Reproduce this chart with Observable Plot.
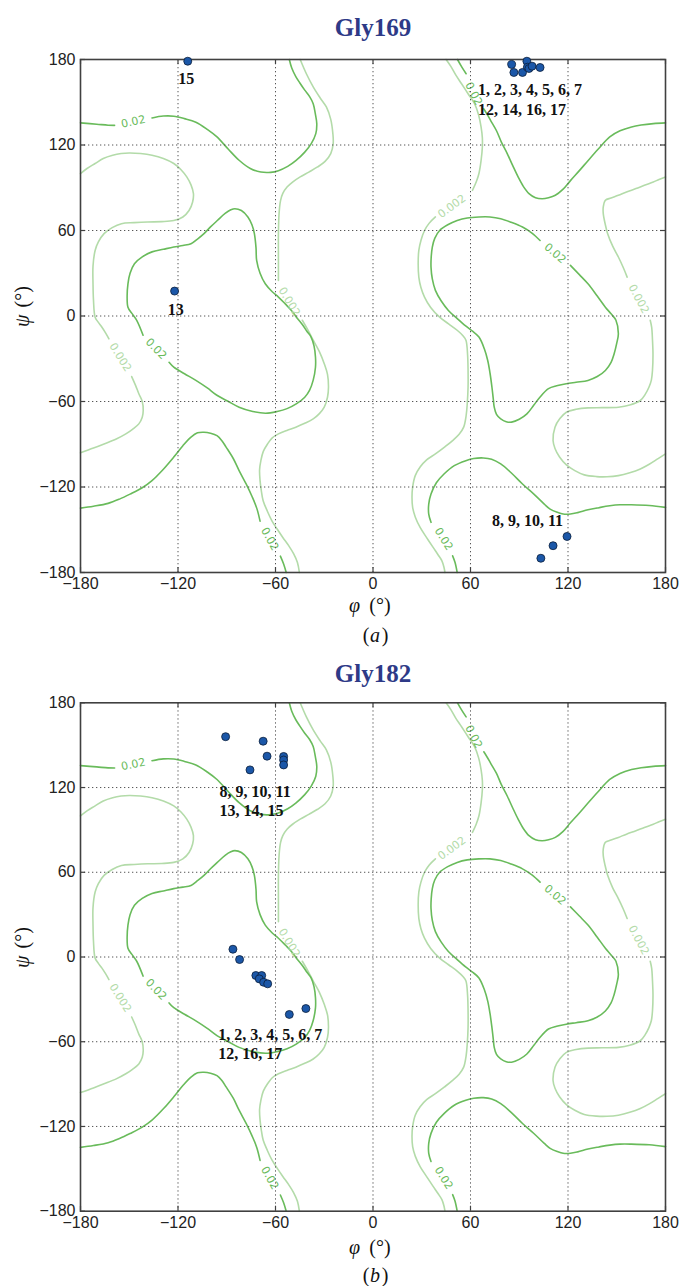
<!DOCTYPE html>
<html><head><meta charset="utf-8">
<script src="https://cdn.jsdelivr.net/npm/d3@7"></script>
<script src="https://cdn.jsdelivr.net/npm/@observablehq/plot@0.6"></script>
<style>body{margin:0;background:#fff} svg{display:block}</style>
</head><body><div id="chart"></div>
<script>
// ---- axis ticks ----
const ticks = [-180, -120, -60, 0, 60, 120, 180];
const gridTicks = [-120, -60, 0, 60, 120];
const tickLabels = ["\u2212180", "\u2212120", "\u221260", "0", "60", "120", "180"];

// ---- contour level 0.02 (polylines [phi, psi], broken where the inline labels sit) ----
const c02_upperLeft_a = [[-180,135.5],[-170,134.6],[-163,133.9],[-159,133.8]];
const c02_upperLeft_b = [[-136,139],[-129,140.3],[-122.6,140.2],[-116,138.5],[-109,136],[-102,131],[-96,125.7],[-89,117],[-82.4,109.3],[-75.5,103.5],[-69,101],[-63,100.8],[-58.2,102],[-52.5,105],[-47.5,109],[-42,115],[-38,121],[-35.2,128],[-34.6,135],[-35.5,142],[-36.8,149],[-39,154],[-42,158.5],[-45,163.5],[-47.5,168],[-50,174],[-51.5,180]];
const c02_lowerLeft_a = [[-180,-134.8],[-172,-133.5],[-163,-131.5],[-156,-128.5],[-149.5,-125],[-142,-120.5],[-136,-115.5],[-129,-107.5],[-122.6,-99],[-117,-91],[-112,-85],[-108,-82],[-104,-81.6],[-100,-82.3],[-96,-84],[-93,-87.5],[-90.4,-92],[-86,-100],[-82.4,-108.5],[-78,-118],[-74.3,-127],[-71.5,-135],[-69.5,-144]];
const c02_lowerLeft_b = [[-57,-168.5],[-55,-174],[-53.4,-180]];
const c02_alpha = [[-141.5,-13.5],[-145.4,-3],[-148.5,2],[-150.8,6.2],[-151.3,14],[-150.8,22.6],[-149.5,30],[-146.8,36.7],[-142,41.5],[-136,45],[-129,46.8],[-122.6,48.4],[-117,49.5],[-112,50.7],[-108,54],[-104,57.8],[-100,62.5],[-95.8,67],[-91,72],[-87.5,74.5],[-85,75.3],[-81,74],[-77,69.5],[-74.5,64],[-73,57.8],[-72,48],[-71.6,39],[-69.5,30],[-66.3,22.6],[-62,17],[-58.2,13.3],[-54,8.5],[-50.2,3.9],[-47,-1],[-43.5,-6],[-40.5,-11],[-38.1,-14.8],[-36.3,-21],[-35.4,-28.8],[-35.4,-36],[-36.8,-45],[-39,-52],[-42,-57],[-47,-61.5],[-52.9,-65],[-59,-67],[-66,-68.2],[-74,-67],[-82.4,-64],[-89,-60],[-95.8,-55.8],[-102,-50.5],[-109,-45.2],[-116,-40.5],[-122.6,-35.9],[-125.5,-32.5]];
const c02_upperRight_a = [[52,180],[54.5,175],[57.3,170]];
const c02_upperRight_b = [[68.2,145.3],[70,142],[72.5,137],[76,130],[79,122],[82.6,114],[86,105.5],[89.3,97.6],[92.5,91],[96,85.9],[100,83],[104.1,82.3],[108,83],[112.2,84.7],[117,89],[121.5,95],[127,102],[132.3,109],[138.5,117],[145.7,125.7],[152,130],[159.1,132.7],[165,134],[172.5,135],[180,135.5]];
const c02_lowerRight_a = [[180,-134.3],[170,-133],[159,-132.5],[152,-132.5],[145.7,-133.2],[139,-134.5],[132.3,-136],[126,-138],[121.5,-139],[117,-139],[113.5,-137.8],[109,-135.5],[105.4,-132],[99,-125],[92,-117.9],[85,-110],[78.6,-103.8],[73,-100.5],[67.9,-99.6],[62,-100],[57.1,-101.5],[50,-105],[43.7,-110.9],[39,-117],[35.7,-124.9],[34.3,-132],[34.3,-139],[35.7,-144.8]];
const c02_lowerRight_b = [[49,-168.3],[50.5,-173],[51.8,-180]];
const c02_rightLoop = [[121.5,35.5],[127,29],[132.3,22.6],[138,14],[143,6.2],[146.5,1.5],[149.5,-3],[151,-12.4],[150,-19],[148.4,-26.5],[146.5,-32.5],[143,-38.2],[138,-42.5],[132.3,-45.2],[125,-46.5],[118.9,-47.6],[113,-49],[108,-51],[102.7,-57],[99,-62.5],[94.7,-68.7],[90,-72.5],[85.3,-74.5],[82,-74.2],[78.6,-72.2],[76,-69],[74.6,-64],[74,-58],[73.2,-50],[72,-40],[70.6,-31.2],[68.5,-23],[65.2,-14.8],[61,-10.5],[57,-7],[52,-2],[46.4,3.9],[42,10.5],[38.4,18],[36.5,26],[35.7,34.3],[35.8,41],[36.5,48.4],[38,54.5],[41,60],[46,64],[51.8,67],[58,68.8],[65.2,69.5],[72,69.5],[78.6,68.3],[85,65.8],[92,62.4],[98,58],[102.8,53]];

// ---- contour level 0.002 ----
const c002_left_a = [[-180,99.9],[-176,103.5],[-171,107],[-166,110.5],[-160.2,112.8],[-155,114],[-150,114.4],[-143,114],[-136,112.8],[-129,110.5],[-122.6,107],[-118,102.5],[-114.6,97.6],[-112,92],[-110.5,85.9],[-111,80],[-113.2,74],[-117,69.5],[-122.6,67],[-130,66.2],[-138.7,66],[-147,65.5],[-154.8,64.8],[-160.5,62],[-165.5,57.8],[-169,52],[-171,46],[-172.3,35],[-172.3,22.6],[-172,11],[-171,-0.8],[-169,-4.5],[-166.9,-7.7],[-164.5,-12],[-162.5,-16]];
const c002_left_b = [[-148.5,-42.5],[-146,-49],[-144.1,-54.6],[-142,-60],[-141.4,-66.3],[-142,-71],[-144.1,-75.7],[-148,-79.5],[-152.1,-82.7],[-158,-86.3],[-165.5,-89.8],[-172,-92.7],[-180,-96]];
const c002_midLeft_a = [[-44.8,180],[-41,170],[-36.8,160.8],[-32.5,153],[-28.7,146.7],[-26,138],[-24.7,128],[-24.5,121],[-26,114],[-29.5,108.5],[-34.1,104.6],[-39.5,101],[-44.8,97.6],[-49.5,94],[-52.9,90.5],[-55.5,86],[-56.9,81],[-57.8,72],[-58.2,57.8],[-58.2,40],[-58.2,25]];
const c002_midLeft_b = [[-43.5,-3],[-40,-10],[-36.8,-17],[-33,-25],[-30,-33.5],[-28,-41],[-27.4,-50],[-28,-57],[-30,-64],[-33,-68.5],[-36.8,-72.2],[-42,-75.3],[-47.5,-78],[-53,-80.3],[-58.2,-82.7],[-62,-85.5],[-64.9,-89.8],[-67.5,-95],[-69,-101.5],[-69.8,-108],[-69.5,-115.5],[-68.8,-122],[-67.6,-129.6],[-65,-137],[-62.2,-143.7],[-59,-149.5],[-55.5,-155.4],[-52,-161],[-48.8,-167],[-46.5,-173],[-45.3,-180]];
const c002_midRight_a = [[45,180],[48,175],[51,169],[54.5,163],[58.5,156],[62.5,149],[65,141],[66.5,132.7],[67.3,125],[67.3,118.6],[66.5,109],[65.2,100],[63.5,94],[61.2,88.2]];
const c002_midRight_b = [[38.4,69.5],[34.5,65],[31.7,60],[29.5,53],[28.2,46],[27.8,37],[28.2,27.3],[29.5,20],[31.7,13.3],[35.5,6],[41,-0.8],[46.5,-5.5],[51.8,-10],[55.5,-14],[57.2,-17],[58.2,-27],[58.5,-38],[58.5,-50],[58,-61.6],[57.3,-70],[55.8,-78],[53,-83],[49,-87.4],[44,-92],[38.4,-96.8],[33,-101],[29,-106],[26,-112],[24.4,-120],[24,-127],[24.4,-134.3],[26,-141],[29,-148.4],[33,-155.5],[37,-162.4],[40,-167.5],[42.4,-171.8],[43.6,-176],[44.3,-180]];
const c002_right_a = [[180,97.6],[176,95.8],[172.5,94],[167,91.7],[161.8,89.4],[156,87],[151,84.7],[146.5,82.8],[143,81.2],[141.7,76.5],[141.7,71.8],[142.8,65],[144.4,57.8],[147.5,49],[151,41.4],[154,34],[156.4,27.3]];
const c002_right_b = [[170.6,-3],[171.5,-8],[172,-17],[172.3,-27],[172,-38],[171.3,-45],[169.8,-50],[167.5,-55],[164.5,-59.3],[158,-62.5],[151,-64],[141,-64.3],[132.3,-64.5],[125,-65.5],[119,-67.5],[115,-72],[112,-78],[110.8,-87.4],[112,-93],[114.8,-99],[119,-104.5],[124.2,-108.5],[130,-111.5],[137.6,-112.7],[144,-112.8],[151,-112],[158,-110],[164.5,-107.3],[170,-104],[175.2,-100.3],[180,-96.8]];

// ---- inline contour labels ----
const label02Phi = [-147.5, -63.5, -133.5, 62, 43.5, 112];
const label02Psi = [136.4, -156.5, -23, 156, -156.5, 44];
const label02Angle = [-12, 61, 46, 63, 58, 41];
const label002Phi = [-155.5, -51.5, 48.5, 163.5];
const label002Psi = [-29, 10, 77, 12];
const label002Angle = [58, 59, -36, 62];

// ---- Gly169 (a) ----
const gly169Phi = [85.3, 86.7, 92.0, 94.7, 95.0, 96.0, 97.9, 102.8, -114.0, -122.1, 119.4, 110.8, 103.3];
const gly169Psi = [176.5, 170.9, 170.9, 178.8, 174.6, 173.7, 175.3, 174.4, 178.8, 17.5, -154.7, -161.2, -170.0];
const gly169Notes = ["15", "13", "1, 2, 3, 4, 5, 6, 7", "12, 14, 16, 17", "8, 9, 10, 11"];
const gly169NotePhi = [-115, -121.4, 64.6, 64.6, 73.2];
const gly169NotePsi = [166.4, 4.5, 158.5, 144.9, -143.7];
const gly169NoteAlign = ["middle", "middle", "start", "start", "start"];

// ---- Gly182 (b) ----
const gly182Phi = [-90.7, -67.6, -65.2, -75.7, -55.0, -55.0, -55.0, -86.2, -82.1, -72.1, -68.5, -70.0, -67.3, -64.8, -51.5, -41.3];
const gly182Psi = [156.0, 152.8, 142.2, 132.5, 142.0, 139.5, 136.0, 5.5, -1.8, -13.1, -13.1, -15.5, -17.9, -19.0, -40.7, -36.5];
const gly182Notes = ["8, 9, 10, 11", "13, 14, 15", "1, 2, 3, 4, 5, 6, 7", "12, 16, 17"];
const gly182NotePhi = [-94.4, -94.4, -95.3, -95.3];
const gly182NotePsi = [116.6, 103.2, -54.8, -68.5];
const gly182NoteAlign = ["start", "start", "start", "start"];

const titles = ["Gly169", "Gly182"];
const tags = ["a", "b"];
const axisVarX = "\u03c6", axisVarY = "\u03c8", unitText = "(\u00b0)";

const darkContours = [c02_upperLeft_a, c02_upperLeft_b, c02_lowerLeft_a, c02_lowerLeft_b, c02_alpha, c02_upperRight_a, c02_upperRight_b, c02_lowerRight_a, c02_lowerRight_b, c02_rightLoop];
const lightContours = [c002_left_a, c002_left_b, c002_midLeft_a, c002_midLeft_b, c002_midRight_a, c002_midRight_b, c002_right_a, c002_right_b];

const DARK = "#69bb5b", LIGHT = "#b3dba9";
const SERIF = "'Liberation Serif', 'Times New Roman', serif";

function panel(cfg) {
  const W = 680, ml = 80, mr = 15;
  const frameH = cfg.height - cfg.mt - cfg.mb, frameW = W - ml - mr;
  const pts = cfg.phi.map((p, i) => ({phi: p, psi: cfg.psi[i]}));
  const notes = cfg.notes.map((t, i) => ({t, phi: cfg.notePhi[i], psi: cfg.notePsi[i], align: cfg.noteAlign[i]}));
  const l02 = label02Phi.map((p, i) => ({phi: p, psi: label02Psi[i], a: label02Angle[i]}));
  const l002 = label002Phi.map((p, i) => ({phi: p, psi: label002Psi[i], a: label002Angle[i]}));
  const fmt = d => tickLabels[ticks.indexOf(d)];
  const lineOpts = (c) => ({x: d => d[0], y: d => d[1], stroke: c, strokeWidth: 1.6, curve: "catmull-rom"});
  const txt = (o) => ({text: d => d, lineAnchor: "middle", fontFamily: SERIF, fontSize: 20, fill: "#111", ...o});
  return Plot.plot({
    width: W, height: cfg.height, marginTop: cfg.mt, marginBottom: cfg.mb, marginLeft: ml, marginRight: mr,
    x: {domain: [-180, 180]}, y: {domain: [-180, 180]},
    style: {fontFamily: "'Liberation Sans', Arial, sans-serif", fontSize: "16px", background: "#fff", color: "#222"},
    marks: [
      ...lightContours.map(seg => Plot.line(seg, lineOpts(LIGHT))),
      ...darkContours.map(seg => Plot.line(seg, lineOpts(DARK))),
      Plot.text(l002, {x: "phi", y: "psi", rotate: "a", text: () => "0.002", fill: LIGHT, fontSize: 11, fontFamily: "'DejaVu Sans', sans-serif"}),
      Plot.text(l02, {x: "phi", y: "psi", rotate: "a", text: () => "0.02", fill: DARK, fontSize: 11, fontFamily: "'DejaVu Sans', sans-serif"}),
      Plot.ruleX(gridTicks, {x: d => d, stroke: "#555", strokeWidth: 1, strokeDasharray: "1.3,2.7"}),
      Plot.ruleY(gridTicks, {y: d => d, stroke: "#555", strokeWidth: 1, strokeDasharray: "1.3,2.7"}),
      Plot.frame({stroke: "#404040", strokeWidth: 1.6}),
      Plot.ruleX(ticks, {x: d => d, insetTop: frameH - 5, stroke: "#404040", strokeWidth: 1.2}),
      Plot.ruleX(ticks, {x: d => d, insetBottom: frameH - 5, stroke: "#404040", strokeWidth: 1.2}),
      Plot.ruleY(ticks, {y: d => d, insetRight: frameW - 5, stroke: "#404040", strokeWidth: 1.2}),
      Plot.ruleY(ticks, {y: d => d, insetLeft: frameW - 5, stroke: "#404040", strokeWidth: 1.2}),
      Plot.dot(pts, {x: "phi", y: "psi", r: 4, fill: "#1b57a8", stroke: "#0b1e3a", strokeWidth: 0.8}),
      Plot.text(notes.filter(d => d.align === "middle"), {x: "phi", y: "psi", text: "t", textAnchor: "middle", fontFamily: SERIF, fontWeight: "bold", fontSize: 16, fill: "#111"}),
      Plot.text(notes.filter(d => d.align === "start"), {x: "phi", y: "psi", text: "t", textAnchor: "start", fontFamily: SERIF, fontWeight: "bold", fontSize: 16, fill: "#111"}),
      Plot.text([cfg.title], txt({frameAnchor: "top", dy: cfg.titleDy, fontWeight: "bold", fontSize: 25, fill: "#2e3a87"})),
      Plot.text([axisVarX], txt({frameAnchor: "bottom", dx: -18.5, dy: cfg.phiDy, fontStyle: "italic"})),
      Plot.text([unitText], txt({frameAnchor: "bottom", dx: 7, dy: cfg.phiDy})),
      Plot.text([axisVarY], txt({frameAnchor: "left", dx: -58, dy: 11, rotate: -90, fontStyle: "italic"})),
      Plot.text([unitText], txt({frameAnchor: "left", dx: -58, dy: -8.5, rotate: -90})),
      Plot.text(["("], txt({frameAnchor: "bottom", dx: -7, dy: cfg.tagDy})),
      Plot.text([cfg.tag], txt({frameAnchor: "bottom", dx: 2, dy: cfg.tagDy, fontStyle: "italic"})),
      Plot.text([")"], txt({frameAnchor: "bottom", dx: 12, dy: cfg.tagDy})),
      Plot.axisX({ticks, tickFormat: fmt, tickSize: 0, tickPadding: 5, label: null, fontSize: 16}),
      Plot.axisY({ticks, tickFormat: fmt, tickSize: 0, tickPadding: 5, label: null, fontSize: 16})
    ]
  });
}

const chart = document.getElementById("chart");
chart.append(panel({
  title: titles[0], tag: tags[0], height: 648, mt: 59, mb: 76,
  phi: gly169Phi, psi: gly169Psi, notes: gly169Notes, notePhi: gly169NotePhi, notePsi: gly169NotePsi, noteAlign: gly169NoteAlign,
  titleDy: -32, phiDy: 32.6, tagDy: 62.6
}));
chart.append(panel({
  title: titles[1], tag: tags[1], height: 638, mt: 54.3, mb: 75.3,
  phi: gly182Phi, psi: gly182Psi, notes: gly182Notes, notePhi: gly182NotePhi, notePsi: gly182NotePsi, noteAlign: gly182NoteAlign,
  titleDy: -29.3, phiDy: 35.9, tagDy: 63.9
}));
</script>
</body></html>
